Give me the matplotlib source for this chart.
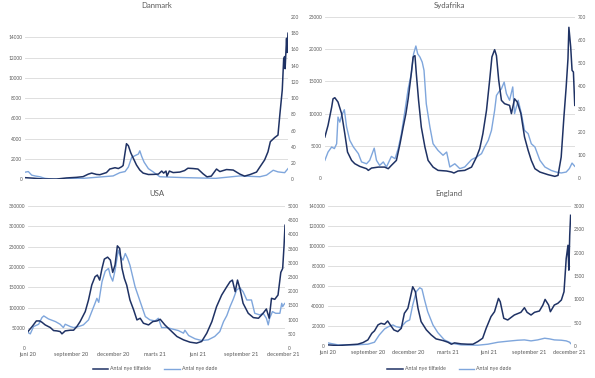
import matplotlib.pyplot as plt

# x = days since 1 June 2020
month_ticks = [0, 92, 183, 273, 365, 457, 548]
month_labels = ["juni 20", "september 20", "december 20", "marts 21",
                "juni 21", "september 21", "december 21"]

# Danmark
dk_case_days = [0, 17, 38, 66, 87, 108, 122, 133, 140, 150, 157, 171, 178, 189, 196, 203,
                206, 210, 213, 217, 222, 227, 234, 241, 248, 259, 269, 280, 287, 291, 296,
                298, 303, 311, 325, 335, 342, 353, 363, 374, 382, 391, 402, 409, 423, 437,
                451, 461, 472, 486, 493, 503, 510, 515, 524, 531, 535, 540, 543, 545, 546,
                549, 550, 552]
dk_cases = [150, 100, 20, 10, 120, 180, 250, 500, 600, 470, 440, 650, 1000, 1130, 1050, 1230,
            1350, 2600, 3500, 3300, 2600, 2100, 1400, 900, 600, 460, 470, 500, 800, 600, 800,
            300, 800, 650, 700, 850, 1080, 1050, 1000, 520, 230, 300, 1000, 750, 950, 900,
            500, 300, 450, 700, 1200, 1900, 2700, 3700, 4100, 4350, 6400, 8800, 11900, 12100,
            10900, 13900, 12500, 14400]
dk_death_days = [0, 7, 14, 21, 31, 42, 60, 122, 143, 164, 185, 199, 210, 217, 224, 231, 238,
                 241, 245, 250, 259, 269, 283, 330, 400, 451, 493, 507, 521, 531, 545, 552]
dk_deaths = [8.6, 9.4, 5, 4, 3, 1, 0, 1, 2, 3, 4, 8, 9.4, 15, 27, 29, 31, 35, 28, 21, 13, 9,
             3, 2, 1, 4, 3, 5, 11, 9, 8, 13]

# Sydafrika
za_case_days = [0, 7, 15, 18, 22, 29, 37, 44, 50, 59, 66, 77, 92, 96, 103, 118, 132, 140,
                147, 158, 166, 173, 179, 184, 190, 195, 199, 202, 207, 213, 221, 228, 239,
                250, 269, 280, 285, 294, 309, 324, 335, 342, 349, 357, 364, 369, 375, 379,
                384, 390, 397, 408, 412, 419, 425, 433, 441, 449, 456, 464, 475, 493, 508,
                515, 522, 528, 533, 537, 539, 543, 546, 549, 552]
za_cases = [6370, 8180, 11000, 12300, 12470, 11800, 10000, 6900, 4040, 2740, 2230, 1810, 1450,
            1190, 1550, 1700, 1700, 1450, 1970, 2740, 5330, 7920, 10000, 12300, 15700, 18800,
            19000, 16200, 12060, 7920, 4810, 2740, 1700, 1190, 1090, 930, 780, 1090, 1190,
            1700, 3260, 4550, 6880, 10500, 15200, 18800, 19930, 19000, 15200, 12060, 11540,
            11280, 10000, 12300, 11800, 10000, 6370, 4300, 2740, 1450, 930, 520, 260, 410,
            3260, 9470, 14130, 18530, 23400, 20340, 16720, 16460, 11280]
za_death_days = [0, 7, 15, 21, 26, 29, 33, 37, 43, 48, 55, 63, 74, 81, 92, 99, 109, 114, 121,
                 129, 136, 147, 155, 162, 169, 177, 184, 191, 196, 201, 205, 210, 215, 219,
                 224, 232, 239, 250, 261, 269, 276, 287, 298, 309, 324, 335, 346, 353, 361,
                 368, 375, 379, 384, 390, 396, 401, 408, 415, 419, 427, 434, 441, 449, 456,
                 464, 475, 486, 500, 511, 522, 533, 540, 546, 552]
za_deaths = [77, 113, 135, 128, 149, 265, 243, 272, 297, 222, 164, 135, 106, 70, 62, 77, 130,
             77, 55, 70, 48, 94, 84, 128, 193, 294, 388, 454, 540, 574, 540, 526, 504, 468,
             323, 222, 149, 120, 99, 113, 48, 62, 41, 48, 80, 91, 106, 135, 164, 207, 294,
             359, 374, 388, 417, 367, 338, 396, 280, 338, 280, 207, 193, 149, 135, 77, 48, 33,
             26, 22, 26, 41, 65, 51]

# USA
us_case_days = [0, 9, 18, 25, 30, 37, 48, 55, 62, 69, 73, 80, 91, 98, 105, 112, 123, 130,
                137, 144, 149, 154, 159, 164, 171, 177, 182, 187, 192, 197, 202, 207, 212,
                219, 227, 234, 241, 248, 259, 268, 277, 284, 294, 305, 320, 334, 348, 362,
                373, 384, 395, 405, 416, 427, 434, 439, 445, 450, 455, 462, 473, 484, 495,
                505, 512, 518, 523, 530, 537, 543, 547, 550, 552]
us_cases = [40900, 53200, 67000, 67000, 63800, 57200, 50700, 43300, 42500, 40900, 35200,
            42500, 44200, 44200, 53200, 65400, 90000, 118600, 155400, 175800, 180000, 167600,
            196300, 219200, 224100, 216700, 186500, 204500, 251900, 245300, 196300, 171700,
            155400, 118600, 94000, 69500, 73600, 61300, 57200, 65400, 67000, 71100, 57200,
            45000, 28600, 20400, 14700, 12300, 16400, 36800, 65400, 102200, 130800, 151300,
            163600, 167600, 139000, 167600, 147200, 110400, 85900, 75200, 73600, 85900, 96500,
            73600, 122700, 120200, 130800, 186500, 196300, 253500, 302600]
us_death_days = [0, 5, 12, 23, 30, 34, 44, 59, 69, 76, 80, 91, 98, 109, 119, 130, 137, 144,
                 148, 152, 159, 166, 173, 177, 182, 187, 194, 199, 204, 209, 214, 219, 230,
                 241, 252, 262, 273, 280, 287, 298, 309, 323, 334, 337, 345, 359, 373, 387,
                 401, 412, 420, 427, 434, 441, 448, 455, 462, 470, 480, 487, 498, 505, 512,
                 516, 519, 525, 532, 541, 545, 547, 550, 552]
us_deaths = [549, 502, 759, 841, 1075, 1133, 1028, 934, 841, 724, 841, 759, 724, 759, 818,
             993, 1285, 1577, 1752, 1612, 2336, 2710, 2803, 2546, 2359, 2733, 3446, 3212,
             3095, 3329, 3154, 2920, 2161, 1635, 1110, 993, 958, 1051, 724, 724, 677, 619,
             526, 631, 444, 327, 269, 292, 409, 584, 934, 1145, 1460, 1729, 2044, 2126, 1986,
             1694, 1694, 1226, 1168, 1226, 1051, 818, 1051, 1285, 1226, 1226, 1577, 1460,
             1542, 1577]

# England
en_case_days = [0, 23, 45, 68, 80, 91, 100, 106, 114, 121, 129, 136, 142, 150, 159, 167, 174,
                182, 188, 193, 199, 205, 212, 224, 235, 246, 262, 273, 281, 288, 303, 318,
                330, 341, 352, 360, 371, 379, 388, 392, 400, 409, 424, 439, 447, 453, 462,
                470, 481, 489, 494, 502, 506, 515, 523, 531, 537, 542, 546, 548, 550, 552]
en_cases = [1000, 330, 1000, 1660, 3300, 6000, 12600, 15000, 21000, 22600, 21600, 24900,
            21000, 16000, 14300, 17600, 32600, 37600, 49200, 59200, 54200, 37600, 24300,
            16000, 11000, 7000, 5300, 3660, 1660, 3000, 2000, 1660, 1660, 4300, 7650, 17600,
            29300, 34200, 47500, 44200, 27600, 25900, 30900, 33600, 38200, 33600, 30900,
            33600, 34900, 40900, 46500, 40900, 34200, 40900, 42600, 45900, 54200, 87400,
            100700, 75800, 110700, 130700]
en_death_days = [0, 23, 61, 91, 106, 117, 129, 138, 148, 155, 165, 178, 186, 193, 201, 209,
                 214, 220, 227, 239, 250, 265, 281, 303, 341, 364, 387, 409, 432, 447, 462,
                 477, 493, 504, 515, 531, 542, 550, 552]
en_deaths = [64, 21, 21, 36, 78, 235, 363, 413, 449, 413, 392, 520, 556, 876, 1162, 1247,
             1219, 983, 734, 449, 285, 128, 57, 21, 14, 36, 78, 100, 121, 128, 107, 128, 164,
             150, 128, 121, 107, 78, 50]

DARK = "#1f3264"
LIGHT = "#7fa6dc"
GREY = "#595959"
GRID = "#d9d9d9"
plt.rcParams['font.family'] = ['Lato', 'DejaVu Sans']

fig = plt.figure(figsize=(5.95, 3.78), dpi=100)


def panel(rect, title, title_y, cdays, cases, ddays, deaths, lmax, lticks, rmax, rticks,
          xlabels):
    ax = fig.add_axes(rect)
    ax2 = ax.twinx()
    ax.set_zorder(ax2.get_zorder() + 1)
    ax.patch.set_visible(False)
    l2, = ax2.plot(ddays, deaths, color=LIGHT, lw=1.0)
    l1, = ax.plot(cdays, cases, color=DARK, lw=1.1)
    ax.set_xlim(0, 552)
    ax.set_ylim(0, lmax)
    ax2.set_ylim(0, rmax)
    ax.set_yticks(lticks)
    ax2.set_yticks(rticks)
    for t in lticks[1:]:
        ax2.axhline(t * rmax / lmax, color=GRID, lw=0.6, zorder=0)
    for a in (ax, ax2):
        for s in a.spines.values():
            s.set_visible(False)
        a.tick_params(axis='y', length=0, labelsize=3.4, labelcolor=GREY, pad=2)
    ax2.axhline(0, color=GRID, lw=0.7, zorder=0)
    if xlabels:
        ax.set_xticks(month_ticks)
        ax.set_xticklabels(month_labels)
        ax.tick_params(axis='x', length=0, labelsize=4.1, labelcolor=GREY, pad=3)
    else:
        ax.set_xticks([])
    cx = rect[0] + rect[2] / 2
    fig.text(cx, title_y, title, ha='center', va='center', fontsize=5.6, color=GREY)
    return l1, l2


panel([0.042, 0.526, 0.442, 0.429], "Danmark", 0.985, dk_case_days, dk_cases,
      dk_death_days, dk_deaths, 16000, list(range(0, 14001, 2000)), 200,
      list(range(0, 201, 20)), False)
panel([0.546, 0.529, 0.420, 0.426], "Sydafrika", 0.985, za_case_days, za_cases,
      za_death_days, za_deaths, 25000, list(range(0, 25001, 5000)), 700,
      list(range(0, 701, 100)), False)
h1, h2 = panel([0.047, 0.079, 0.432, 0.376], "USA", 0.487, us_case_days, us_cases,
               us_death_days, us_deaths, 350000, list(range(0, 350001, 50000)), 5000,
               list(range(0, 5001, 500)), True)
panel([0.551, 0.085, 0.408, 0.370], "England", 0.487, en_case_days, en_cases,
      en_death_days, en_deaths, 140000, list(range(0, 140001, 20000)), 3000,
      list(range(0, 3001, 500)), True)

for cx in (0.26, 0.755):
    fig.legend([h1, h2], ["Antal nye tilfælde", "Antal nye døde"], loc='center',
               bbox_to_anchor=(cx, 0.024), ncol=2, frameon=False, fontsize=3.8,
               labelcolor=GREY, handlelength=3, columnspacing=2.5, handletextpad=0.3)

fig.savefig("out.png", dpi=100)
